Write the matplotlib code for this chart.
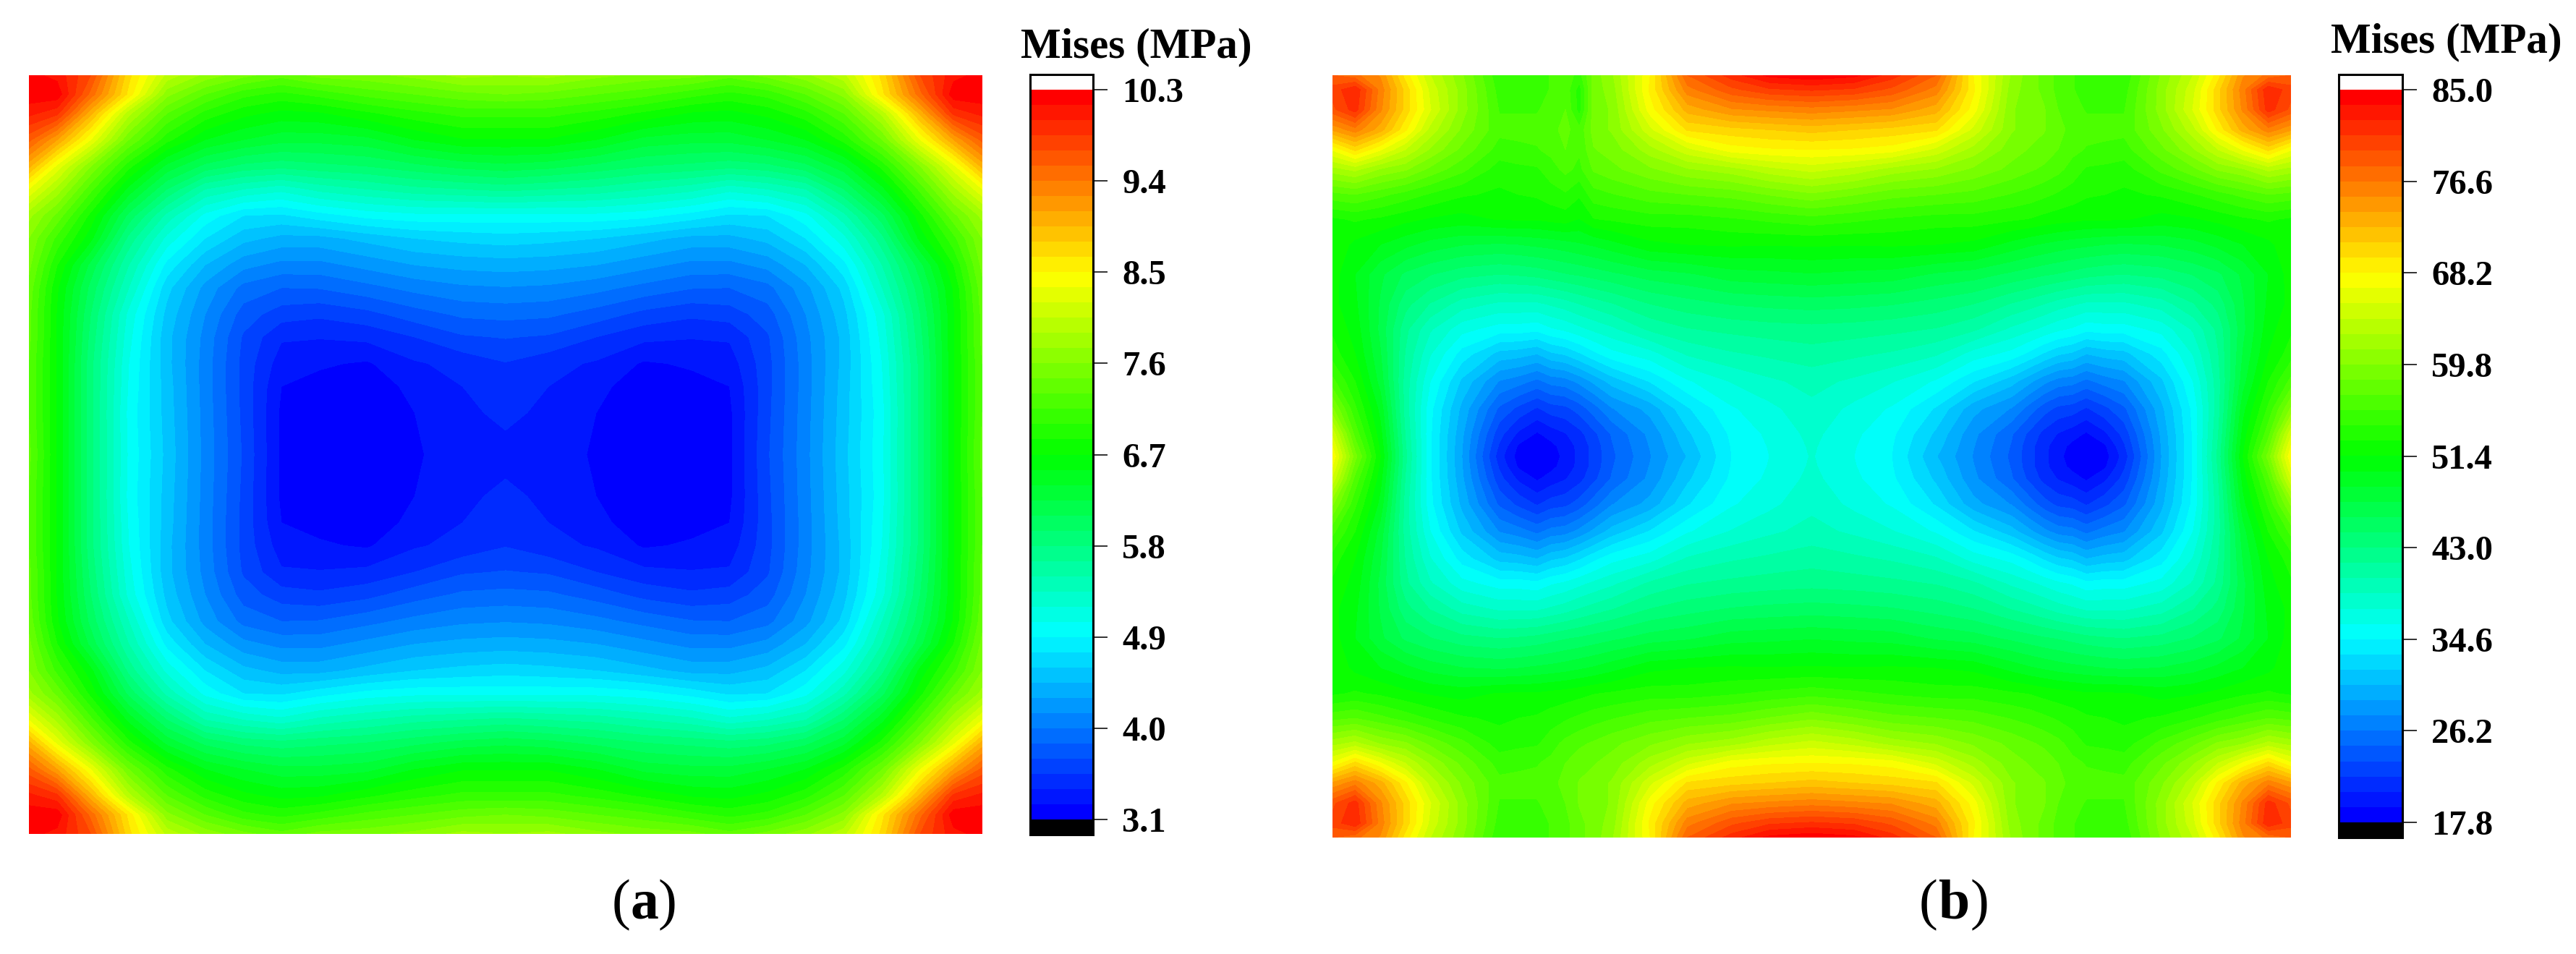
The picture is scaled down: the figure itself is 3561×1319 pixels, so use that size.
import numpy as np
import matplotlib
matplotlib.use("Agg")
import matplotlib.pyplot as plt
from matplotlib.colors import LinearSegmentedColormap

# quarter panels (top left corner), x and y are
# fractions of the half width / half height, one list per x position
x_a = [0, .06, .13, .21, .29, .37, .45, .53, .61, .71, .81, .91, 1.0]
y_a = [0, .05, .10, .17, .24, .30, .37, .43, .50, .56, .63, .69, .76, .82, .89, 1.0]
mises_a = [
    [10.2, 10.25, 10.05, 9.6, 9.0, 8.35, 7.8, 7.6, 7.5, 7.4, 7.35, 7.35, 7.3, 7.3, 7.3, 7.35],
    [10.1, 10.25, 9.9, 9.1, 8.3, 7.85, 7.4, 7.1, 6.85, 6.72, 6.68, 6.68, 6.68, 6.68, 6.68, 6.68],
    [9.7, 9.5, 9.0, 8.35, 7.6, 7.2, 6.8, 6.6, 6.2, 6.05, 5.95, 5.9, 5.85, 5.85, 5.85, 5.85],
    [8.7, 8.6, 7.95, 7.45, 6.9, 6.5, 6.05, 5.75, 5.5, 5.35, 5.15, 5.1, 5.05, 5.03, 5.0, 5.02],
    [8.0, 7.65, 7.3, 6.9, 6.35, 5.95, 5.45, 5.15, 4.85, 4.65, 4.55, 4.5, 4.5, 4.52, 4.53, 4.55],
    [7.7, 7.3, 6.95, 6.55, 6.05, 5.5, 5.0, 4.75, 4.45, 4.25, 4.15, 4.1, 4.08, 4.08, 4.09, 4.1],
    [7.5, 7.05, 6.75, 6.4, 5.9, 5.35, 4.75, 4.5, 4.2, 3.95, 3.78, 3.68, 3.65, 3.65, 3.66, 3.68],
    [7.35, 6.95, 6.65, 6.3, 5.85, 5.25, 4.72, 4.4, 4.1, 3.85, 3.62, 3.42, 3.32, 3.25, 3.22, 3.22],
    [7.5, 7.05, 6.68, 6.3, 5.9, 5.4, 4.83, 4.4, 4.1, 3.86, 3.58, 3.41, 3.27, 3.2, 3.17, 3.16],
    [7.55, 7.2, 6.82, 6.35, 5.95, 5.5, 4.95, 4.5, 4.2, 3.95, 3.65, 3.44, 3.23, 3.15, 3.13, 3.13],
    [7.65, 7.3, 6.95, 6.55, 6.05, 5.6, 5.0, 4.6, 4.3, 4.05, 3.78, 3.55, 3.38, 3.3, 3.25, 3.23],
    [7.8, 7.4, 7.05, 6.68, 6.15, 5.65, 5.0, 4.65, 4.35, 4.12, 3.88, 3.68, 3.45, 3.4, 3.35, 3.33],
    [7.75, 7.45, 7.05, 6.68, 6.2, 5.7, 5.0, 4.68, 4.37, 4.14, 3.9, 3.71, 3.54, 3.49, 3.45, 3.33],
]
ticks_a = [3.1, 4.0, 4.9, 5.8, 6.7, 7.6, 8.5, 9.4, 10.3]

x_b = [0, .047, .1, .152, .204, .27, .348, .388, .427, .456, .486, .515, .545, .584, .663, .741, .833, .912, 1.0]
y_b = [0, .038, .09, .143, .195, .247, .313, .378, .444, .522, .6, .666, .731, .803, .875, .941, .973, 1.0]
mises_b = [
    [78, 80, 79, 74, 67, 62, 56.5, 52.5, 52.5, 52, 51.8, 52.5, 53.5, 56, 60, 65, 66.8, 68],
    [77, 82, 81.5, 76, 70, 63, 57, 53, 51, 50, 50.3, 50.8, 51.4, 52.8, 54.5, 56.5, 57.8, 59],
    [75, 76, 75.5, 73, 67, 61, 56, 52.5, 50, 47.5, 47, 46.8, 47.3, 48, 49.5, 50.5, 51, 51.4],
    [69, 70.5, 70.5, 68.5, 64, 60, 55, 51.8, 49, 45.5, 43.5, 42, 41.5, 41, 41, 41.5, 41.8, 42],
    [64, 65, 65.5, 63.5, 61, 58, 54, 51.2, 48, 44.5, 41.5, 39, 37.5, 36, 35, 34.8, 34.8, 34.8],
    [60, 60.5, 60.5, 59.5, 58, 56, 53, 50.8, 47.3, 43.5, 39.5, 36.5, 34, 31.5, 30, 29.3, 29.1, 29],
    [54.5, 55, 55.5, 56, 55, 53.5, 52.5, 51.5, 47, 43, 38.5, 35.3, 31.3, 27.5, 24.5, 22.5, 21.8, 21.2],
    [54.7, 55, 55.5, 56, 55.3, 53.8, 52.8, 51.5, 47.2, 43.2, 38.5, 35.3, 31, 26.8, 23, 20.3, 19, 18.6],
    [55, 55, 55.5, 56, 55.5, 54, 53, 51.5, 47.5, 43.5, 38.5, 35, 30.4, 25.8, 21.8, 19, 18.2, 17.9],
    [55.7, 55.7, 56, 56.5, 56, 55, 53.5, 51.8, 47.7, 43.9, 39, 35.8, 31.5, 26.7, 22.7, 19.8, 18.8, 18.5],
    [56.5, 56.5, 57, 57.5, 57, 56, 54, 52, 48, 44.3, 39.5, 36.3, 32, 27, 23, 20.5, 19.8, 19.6],
    [58, 58, 58.5, 58.5, 57.8, 56.7, 54.5, 52.3, 48.4, 44.6, 40.2, 37, 33, 28, 24, 21.5, 21, 21],
    [59, 59, 59, 59, 58.3, 57.2, 55, 52.7, 48.8, 45, 40.8, 37.7, 34.2, 29.3, 25.5, 23, 22.5, 22.5],
    [61, 60.5, 60, 60, 59, 58, 55.5, 53, 49.5, 45.5, 41.5, 38.5, 35.5, 31, 27.5, 25, 24.7, 24.5],
    [68.2, 68.5, 67.5, 65, 62, 59.5, 56.5, 53.5, 51, 46.5, 43, 40.5, 36.8, 33.3, 29.5, 28, 27.7, 27.5],
    [78, 76, 73, 69.8, 65, 61, 57, 53.5, 51.4, 47, 43.8, 41.5, 39, 35.8, 33, 31.5, 31, 30.5],
    [81.5, 79, 75, 70.5, 67.5, 62, 57.5, 54, 51.6, 48, 44.5, 42, 40, 37.5, 35.8, 34.9, 34.7, 34.6],
    [84, 80.5, 75.5, 71, 68, 63.5, 58.5, 54.5, 51.5, 48.2, 44.8, 42.3, 40.5, 38.5, 37, 36.3, 36.1, 36],
    [84.7, 81, 76, 71.5, 68.2, 64.5, 59.5, 55, 51.6, 48.5, 45, 42.5, 41, 39.3, 38.4, 37.8, 37.6, 37.5],
]
# the thin dent near the top edge of (b), only in the upper left quarter
stripe_b = [-3, -4.5, -5, -2.5, -2, -1.5, -1.5, -1, 0, 0, 0, 0, 0, 0, 0, 0, 0, 0]
stripe_col_b = 11
ticks_b = [17.8, 26.2, 34.6, 43.0, 51.4, 59.8, 68.2, 76.6, 85.0]

W, H = 3561, 1319
SERIF = "Liberation Serif"

rainbow = LinearSegmentedColormap.from_list(
    "small_rainbow", ["#0000ff", "#00ffff", "#00ff00", "#ffff00", "#ff0000"], N=48
).with_extremes(over="white", under="black")


def px_box(left, top, right, bottom):
    return [left / W, 1 - bottom / H, (right - left) / W, (bottom - top) / H]


def mirror_axis(vals):
    vals = np.asarray(vals, dtype=float)
    return np.concatenate([vals, 2 - vals[-2::-1]])


def mirror_grid(grid):
    # rows are y, columns are x
    z = np.concatenate([grid, grid[:, -2::-1]], axis=1)
    return np.concatenate([z, z[-2::-1, :]], axis=0)


def draw_panel(fig, box, cbox, xs, ys, grid, ticks, tick_frac):
    ax = fig.add_axes(px_box(*box))
    levels = np.linspace(ticks[0], ticks[-1], 49)
    cf = ax.contourf(mirror_axis(xs), mirror_axis(ys), grid, levels=levels,
                     cmap=rainbow, extend="both")
    ax.set_xlim(0, 2)
    ax.set_ylim(2, 0)
    ax.axis("off")

    cax = fig.add_axes(px_box(*cbox))
    cbar = fig.colorbar(cf, cax=cax, extendrect=True, extendfrac=tick_frac)
    cbar.set_ticks(ticks)
    cbar.set_ticklabels([f"{t:.1f}" for t in ticks])
    cbar.minorticks_off()
    cbar.outline.set_linewidth(2.2)
    cbar.outline.set_edgecolor("black")
    cax.tick_params(length=14.5, width=1.3, color="#222222", pad=14.5,
                    labelsize=35)
    for lab in cax.get_yticklabels():
        lab.set_fontfamily(SERIF)
        lab.set_fontweight("bold")
    return ax


def label_text(fig, x, y, s, size, **kw):
    fig.text(x / W, 1 - y / H, s, fontsize=size, family=SERIF, va="baseline", **kw)


fig = plt.figure(figsize=(W / 100, H / 100), dpi=100, facecolor="white")

quarter_a = np.array(mises_a).T
draw_panel(fig, (39.5, 104, 1358, 1153), (1424, 103, 1511, 1154),
           x_a, y_a, mirror_grid(quarter_a), ticks_a, 0.0208)

quarter_b = np.array(mises_b, dtype=float).T
full_b = mirror_grid(quarter_b)
full_b[:, stripe_col_b] += np.array(stripe_b + [0] * (full_b.shape[0] - len(stripe_b)))
draw_panel(fig, (1842, 104, 3167, 1158), (3233, 103, 3321, 1158),
           x_b, y_b, full_b, ticks_b, 0.0208)

label_text(fig, 1411, 79.5, "Mises (MPa)", 42.5, fontweight="bold", color="black")
label_text(fig, 3222, 72, "Mises (MPa)", 42.5, fontweight="bold", color="black")

# (a) and (b): bold letter, plain brackets
for left, mid, right, letter in [(846, 891, 935, "a"), (2653, 2702, 2749, "b")]:
    label_text(fig, left, 1270, "(", 56, ha="left")
    label_text(fig, mid, 1270, letter, 56, ha="center", fontweight="bold")
    label_text(fig, right, 1270, ")", 56, ha="right")

fig.savefig("out.png", dpi=100)
